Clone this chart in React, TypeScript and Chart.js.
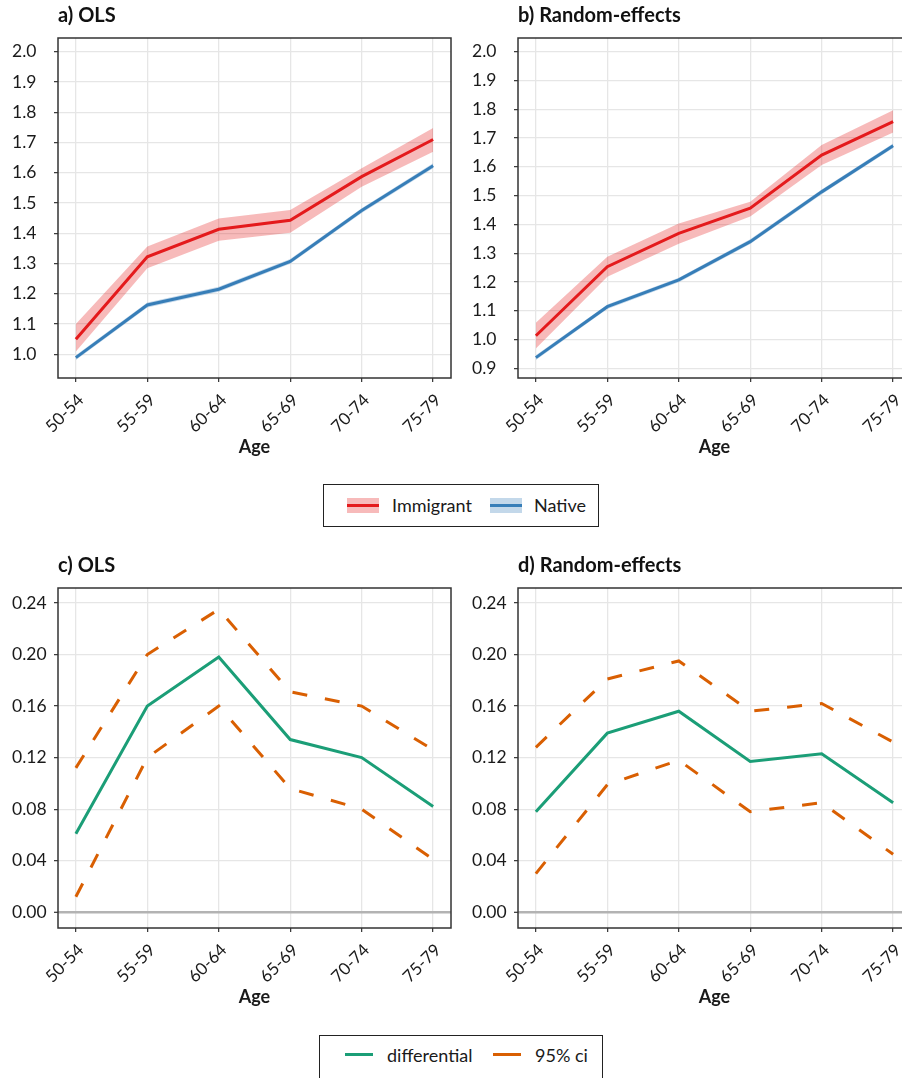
import React, { useEffect, useRef } from "react";
import { Chart, registerables } from "chart.js";

Chart.register(...registerables);

// Age groups on the x axis
const ageGroups = ["50-54", "55-59", "60-64", "65-69", "70-74", "75-79"];

// a) OLS – predicted levels with 95% bands
const olsImmigrant = [1.05, 1.322, 1.413, 1.443, 1.587, 1.71];
const olsImmigrantLow = [1.009, 1.284, 1.375, 1.402, 1.554, 1.669];
const olsImmigrantHigh = [1.1, 1.356, 1.449, 1.477, 1.615, 1.748];
const olsNative = [0.989, 1.163, 1.215, 1.307, 1.475, 1.623];
const olsNativeLow = [0.981, 1.155, 1.207, 1.299, 1.467, 1.615];
const olsNativeHigh = [0.997, 1.171, 1.223, 1.315, 1.483, 1.631];

// b) Random-effects – predicted levels with 95% bands
const reImmigrant = [1.013, 1.253, 1.369, 1.456, 1.641, 1.757];
const reImmigrantLow = [0.969, 1.218, 1.333, 1.427, 1.606, 1.719];
const reImmigrantHigh = [1.058, 1.288, 1.403, 1.479, 1.676, 1.797];
const reNative = [0.937, 1.114, 1.207, 1.34, 1.513, 1.673];
const reNativeLow = [0.929, 1.106, 1.199, 1.332, 1.505, 1.665];
const reNativeHigh = [0.945, 1.122, 1.215, 1.348, 1.521, 1.681];

// c) OLS – immigrant/native differential with 95% ci
const olsDiff = [0.061, 0.16, 0.198, 0.134, 0.12, 0.082];
const olsDiffUpper = [0.112, 0.2, 0.235, 0.171, 0.16, 0.126];
const olsDiffLower = [0.012, 0.12, 0.16, 0.096, 0.08, 0.041];

// d) Random-effects – differential with 95% ci
const reDiff = [0.078, 0.139, 0.156, 0.117, 0.123, 0.085];
const reDiffUpper = [0.128, 0.181, 0.195, 0.156, 0.162, 0.132];
const reDiffLower = [0.03, 0.099, 0.118, 0.078, 0.085, 0.045];

// Tick values and axis limits
const olsLevelTicks = [1.0, 1.1, 1.2, 1.3, 1.4, 1.5, 1.6, 1.7, 1.8, 1.9, 2.0];
const reLevelTicks = [0.9, 1.0, 1.1, 1.2, 1.3, 1.4, 1.5, 1.6, 1.7, 1.8, 1.9, 2.0];
const diffTicks = [0.0, 0.04, 0.08, 0.12, 0.16, 0.2, 0.24];
const olsLevelLimits = [0.9217, 2.0453];
const reLevelLimits = [0.8663, 2.0476];
const diffLimits = [-0.0122, 0.2516];

const RED = "#E41A1C";
const RED_BAND = "rgba(228,26,28,0.3)";
const BLUE = "#377EB8";
const BLUE_BAND = "rgba(55,126,184,0.3)";
const GREEN = "#1B9E77";
const ORANGE = "#D95F02";
const FONT = "Lato";
const TEXT = "#1a1a1a";

const pts = (vals: number[]) => vals.map((y, i) => ({ x: i, y }));

const lineDs = (vals: number[], color: string, extra: any = {}) => ({
  data: pts(vals),
  borderColor: color,
  borderWidth: 3,
  pointRadius: 0,
  fill: false,
  tension: 0,
  order: 0,
  ...extra,
});

const bandDs = (vals: number[], color: string, fill: any) => ({
  data: pts(vals),
  borderWidth: 0,
  borderColor: "rgba(0,0,0,0)",
  backgroundColor: color,
  pointRadius: 0,
  fill,
  tension: 0,
  order: 1,
});

const levelDatasets = (
  imm: number[], immLo: number[], immHi: number[],
  nat: number[], natLo: number[], natHi: number[]
) => [
  lineDs(imm, RED),
  lineDs(nat, BLUE),
  bandDs(immHi, RED_BAND, "+1"),
  bandDs(immLo, RED_BAND, false),
  bandDs(natHi, BLUE_BAND, "+1"),
  bandDs(natLo, BLUE_BAND, false),
];

const diffDatasets = (d: number[], up: number[], lo: number[]) => [
  lineDs(d, GREEN),
  lineDs(up, ORANGE, { borderDash: [15, 18] }),
  lineDs(lo, ORANGE, { borderDash: [15, 18] }),
];

// Panel border and panel heading drawn around the plotting area
const framePlugin = {
  id: "panelFrame",
  afterDraw(chart: any, _args: any, opts: any) {
    const { ctx, chartArea: a } = chart;
    ctx.save();
    ctx.strokeStyle = "#333";
    ctx.lineWidth = 1.5;
    ctx.strokeRect(a.left, a.top, a.right - a.left, a.bottom - a.top);
    ctx.fillStyle = "#111";
    ctx.font = `bold 20px ${FONT}`;
    ctx.textBaseline = "middle";
    ctx.textAlign = "left";
    ctx.fillText(opts.title, a.left, 16);
    ctx.restore();
  },
};

type PanelSpec = {
  title: string;
  left: number;
  top: number;
  width: number;
  padLeft: number;
  limits: number[];
  ticks: number[];
  digits: number;
  zeroLine: boolean;
  datasets: any[];
};

const panels: PanelSpec[] = [
  {
    title: "a) OLS", left: 0, top: 0, width: 452, padLeft: 12,
    limits: olsLevelLimits, ticks: olsLevelTicks, digits: 1, zeroLine: false,
    datasets: levelDatasets(olsImmigrant, olsImmigrantLow, olsImmigrantHigh, olsNative, olsNativeLow, olsNativeHigh),
  },
  {
    title: "b) Random-effects", left: 452, top: 0, width: 460, padLeft: 20,
    limits: reLevelLimits, ticks: reLevelTicks, digits: 1, zeroLine: false,
    datasets: levelDatasets(reImmigrant, reImmigrantLow, reImmigrantHigh, reNative, reNativeLow, reNativeHigh),
  },
  {
    title: "c) OLS", left: 0, top: 550, width: 452, padLeft: 12,
    limits: diffLimits, ticks: diffTicks, digits: 2, zeroLine: true,
    datasets: diffDatasets(olsDiff, olsDiffUpper, olsDiffLower),
  },
  {
    title: "d) Random-effects", left: 452, top: 550, width: 460, padLeft: 20,
    limits: diffLimits, ticks: diffTicks, digits: 2, zeroLine: true,
    datasets: diffDatasets(reDiff, reDiffUpper, reDiffLower),
  },
];

const GRID = "#e6e6e6";

function buildConfig(p: PanelSpec): any {
  return {
    type: "line",
    data: { datasets: p.datasets },
    plugins: [framePlugin],
    options: {
      animation: false,
      responsive: false,
      layout: { padding: { left: p.padLeft, right: 1, top: 38, bottom: 0 } },
      plugins: {
        legend: { display: false },
        tooltip: { enabled: false },
        panelFrame: { title: p.title },
      },
      scales: {
        x: {
          type: "linear",
          min: -0.25,
          max: 5.25,
          afterBuildTicks: (s: any) => {
            s.ticks = ageGroups.map((_, i) => ({ value: i }));
          },
          afterFit: (s: any) => {
            s.height = 82;
            s.paddingLeft = 0;
            s.paddingRight = 0;
          },
          ticks: {
            callback: (v: number) => ageGroups[Math.round(v)],
            minRotation: 45,
            maxRotation: 45,
            autoSkip: false,
            padding: 8,
            labelOffset: 5,
            color: TEXT,
            font: { family: FONT, size: 17 },
          },
          grid: {
            color: GRID,
            lineWidth: 1.3,
            drawTicks: true,
            tickLength: 4,
            tickColor: "#333",
            tickWidth: 1.2,
          },
          border: { display: false },
          title: {
            display: true,
            text: "Age",
            color: TEXT,
            font: { family: FONT, size: 18, weight: "bold" },
            padding: { top: 0, bottom: 2 },
          },
        },
        y: {
          type: "linear",
          min: p.limits[0],
          max: p.limits[1],
          afterBuildTicks: (s: any) => {
            s.ticks = p.ticks.map((v) => ({ value: v }));
          },
          afterFit: (s: any) => {
            s.width = 46;
            s.paddingTop = 0;
            s.paddingBottom = 0;
          },
          ticks: {
            callback: (v: number) => v.toFixed(p.digits),
            crossAlign: "far",
            color: TEXT,
            font: { family: FONT, size: 17.5 },
          },
          grid: {
            color: (c: any) => (p.zeroLine && c.tick && Math.abs(c.tick.value) < 1e-9 ? "#b3b3b3" : GRID),
            lineWidth: (c: any) => (p.zeroLine && c.tick && Math.abs(c.tick.value) < 1e-9 ? 2.6 : 1.3),
            drawTicks: true,
            tickLength: 4,
            tickColor: "#333",
            tickWidth: 1.2,
          },
          border: { display: false },
        },
      },
    },
  };
}

function Panel({ spec }: { spec: PanelSpec }) {
  const ref = useRef<HTMLCanvasElement>(null);
  useEffect(() => {
    const chart = new Chart(ref.current as HTMLCanvasElement, buildConfig(spec));
    return () => chart.destroy();
  }, [spec]);
  return (
    <canvas
      ref={ref}
      width={spec.width}
      height={460}
      style={{ position: "absolute", left: spec.left, top: spec.top }}
    />
  );
}

const textStyle: React.CSSProperties = {
  position: "absolute",
  fontFamily: FONT,
  fontSize: 18,
  color: TEXT,
  lineHeight: "22px",
  whiteSpace: "nowrap",
};

function BandSwatch({ left, top, line, band }: { left: number; top: number; line: string; band: string }) {
  return (
    <div style={{ position: "absolute", left, top, width: 32, height: 15, background: band }}>
      <div style={{ position: "absolute", left: 0, top: 6, width: 32, height: 3, background: line }} />
    </div>
  );
}

export default function App() {
  return (
    <div
      style={{
        position: "absolute",
        left: 0,
        top: 0,
        width: 902,
        height: 1078,
        overflow: "hidden",
        background: "#fff",
      }}
    >
      {panels.map((p) => (
        <Panel key={p.title} spec={p} />
      ))}

      {/* legend for the level panels */}
      <div
        style={{
          position: "absolute",
          left: 323,
          top: 484,
          width: 276,
          height: 43,
          border: "1.5px solid #222",
          boxSizing: "border-box",
        }}
      />
      <BandSwatch left={347} top={498} line={RED} band={RED_BAND} />
      <span style={{ ...textStyle, left: 392, top: 494 }}>Immigrant</span>
      <BandSwatch left={490} top={498} line={BLUE} band={BLUE_BAND} />
      <span style={{ ...textStyle, left: 534, top: 494 }}>Native</span>

      {/* legend for the differential panels */}
      <div
        style={{
          position: "absolute",
          left: 319,
          top: 1035,
          width: 284,
          height: 60,
          border: "1.5px solid #222",
          boxSizing: "border-box",
        }}
      />
      <div style={{ position: "absolute", left: 345, top: 1053, width: 28, height: 3, background: GREEN }} />
      <span style={{ ...textStyle, left: 387, top: 1044 }}>differential</span>
      <div style={{ position: "absolute", left: 493, top: 1053, width: 28, height: 3, background: ORANGE }} />
      <span style={{ ...textStyle, left: 535, top: 1044 }}>95% ci</span>
    </div>
  );
}
